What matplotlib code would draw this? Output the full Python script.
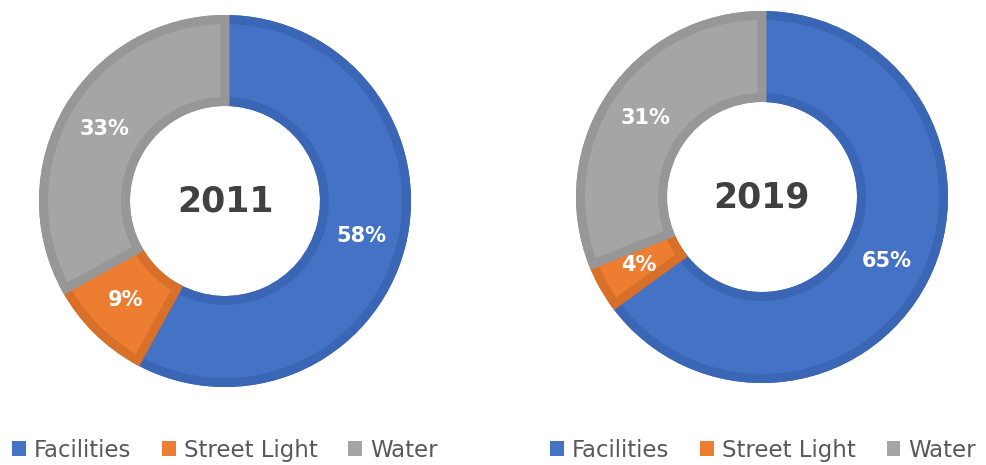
import matplotlib.pyplot as plt
from matplotlib.patches import Patch

categories = ["Facilities", "Street Light", "Water"]
values_2011 = [58, 9, 33]
values_2019 = [65, 4, 31]
years = ["2011", "2019"]

light = ["#4472C4", "#ED7D31", "#A5A5A5"]
dark = ["#3B66B6", "#D8702A", "#979797"]

W, H = 986, 465
fig = plt.figure(figsize=(W / 100, H / 100), dpi=100)
ax = fig.add_axes([0, 0, 1, 1])

R = 186
Rin = 95
ring = R - Rin
d = 9

for vals, cx, cy, yr in [(values_2011, 225, H - 201, years[0]),
                         (values_2019, 762, H - 197, years[1])]:
    ax.pie(vals, colors=dark, startangle=90, counterclock=False,
           radius=R, center=(cx, cy), frame=True,
           wedgeprops=dict(width=ring, linewidth=0))
    wedges, _, autotexts = ax.pie(
        vals, colors=light, startangle=90, counterclock=False,
        radius=R - d / 2, center=(cx, cy), frame=True,
        autopct="%.0f%%", pctdistance=(R - ring / 2) / (R - d / 2),
        wedgeprops=dict(width=ring - d, linewidth=d * 0.72, edgecolor="none"))
    for w, c in zip(wedges, dark):
        w.set_edgecolor(c)
    for t in autotexts:
        t.set_color("white")
        t.set_fontsize(15)
        t.set_fontweight("bold")
    ax.text(cx, cy, yr, ha="center", va="center", fontsize=25,
            fontweight="bold", color="#404040")

ax.set_xlim(0, W)
ax.set_ylim(0, H)
ax.set_aspect("equal")
ax.axis("off")

handles = [Patch(facecolor=c, edgecolor="none") for c in light]
for x0 in [0.012, 0.558]:
    fig.legend(handles, categories, loc="center left",
               bbox_to_anchor=(x0, 1 - 450 / H), ncol=3, frameon=False,
               fontsize=16.5, handlelength=0.6, handleheight=0.6,
               handletextpad=0.35, columnspacing=1.35, borderpad=0,
               borderaxespad=0, labelcolor="#595959")

fig.savefig("out.png", dpi=100)
